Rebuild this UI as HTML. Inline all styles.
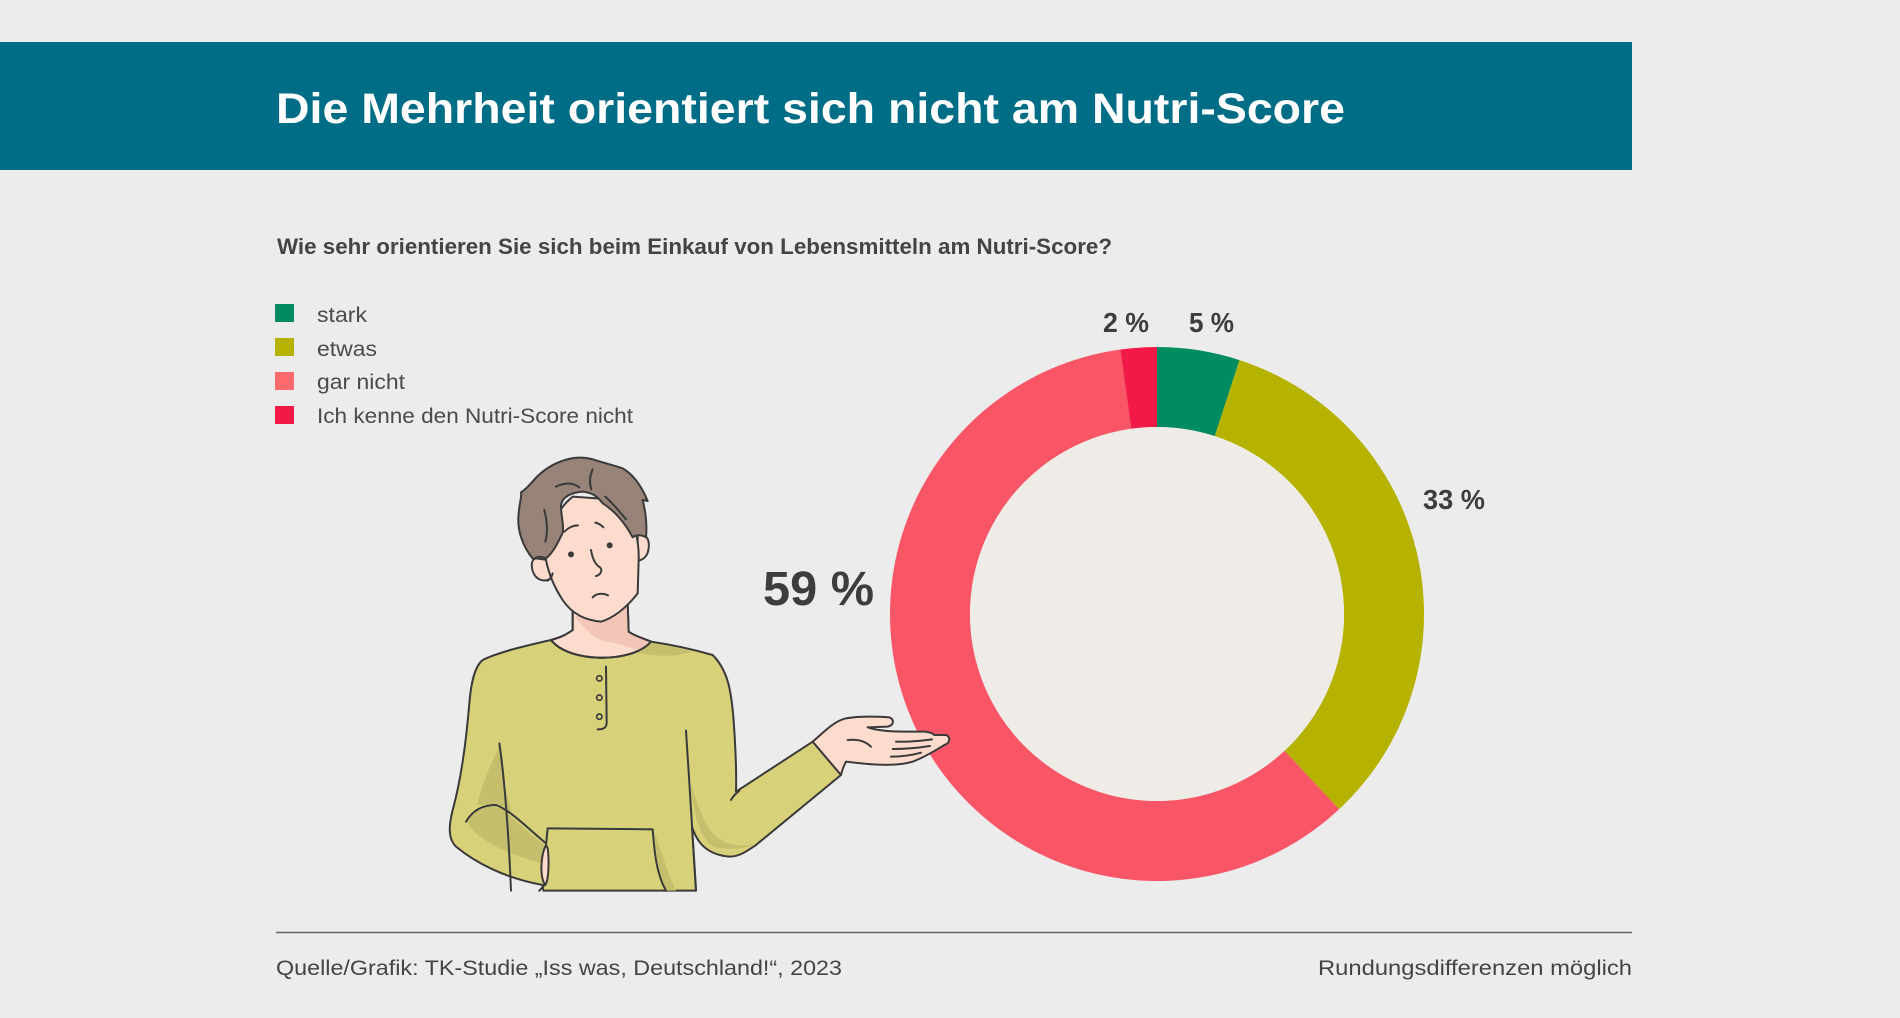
<!DOCTYPE html>
<html>
<head>
<meta charset="utf-8">
<style>
html,body{margin:0;padding:0;background:#ececec;}
svg{display:block;}
text{font-family:"Liberation Sans",sans-serif;}
</style>
</head>
<body>
<svg width="1900" height="1018" viewBox="0 0 1900 1018" xmlns="http://www.w3.org/2000/svg">
<rect x="0" y="0" width="1900" height="1018" fill="#ececec"/>
<!-- title bar -->
<rect x="0" y="42" width="1632" height="128" fill="#006d86"/>
<text x="276" y="123" font-size="43" font-weight="bold" fill="#ffffff" textLength="1069" lengthAdjust="spacingAndGlyphs">Die Mehrheit orientiert sich nicht am Nutri-Score</text>

<!-- subtitle -->
<text x="277" y="254" font-size="22" font-weight="bold" fill="#444444" textLength="835" lengthAdjust="spacingAndGlyphs">Wie sehr orientieren Sie sich beim Einkauf von Lebensmitteln am Nutri-Score?</text>

<!-- legend -->
<rect x="275" y="304" width="19" height="18" fill="#008c60"/>
<rect x="275" y="338" width="19" height="18" fill="#b5b300"/>
<rect x="275" y="372" width="19" height="18" fill="#fd6a6e"/>
<rect x="275" y="406" width="19" height="18" fill="#f31946"/>
<text x="317" y="322" font-size="21" fill="#4a4a4a" textLength="50" lengthAdjust="spacingAndGlyphs">stark</text>
<text x="317" y="356" font-size="21" fill="#4a4a4a" textLength="60" lengthAdjust="spacingAndGlyphs">etwas</text>
<text x="317" y="389" font-size="21" fill="#4a4a4a" textLength="88" lengthAdjust="spacingAndGlyphs">gar nicht</text>
<text x="317" y="423" font-size="21" fill="#4a4a4a" textLength="316" lengthAdjust="spacingAndGlyphs">Ich kenne den Nutri-Score nicht</text>

<!-- donut -->
<path d="M1157,347 A267,267 0 0 1 1239.51,360.07 L1214.79,436.15 A187,187 0 0 0 1157,427 Z" fill="#008c60"/>
<path d="M1239.51,360.07 A267,267 0 0 1 1339.09,809.27 L1284.53,750.76 A187,187 0 0 0 1214.79,436.15 Z" fill="#b5b300"/>
<path d="M1339.09,809.27 A267,267 0 1 1 1120.30,349.53 L1131.30,428.77 A187,187 0 1 0 1284.53,750.76 Z" fill="#f85566"/>
<path d="M1120.30,349.53 A267,267 0 0 1 1157,347 L1157,427 A187,187 0 0 0 1131.30,428.77 Z" fill="#f31946"/>
<circle cx="1157" cy="614" r="187" fill="#efebe6"/>

<!-- labels -->
<text x="1103" y="332" font-size="28" font-weight="bold" fill="#3d3d3b" textLength="46" lengthAdjust="spacingAndGlyphs">2 %</text>
<text x="1189" y="332" font-size="28" font-weight="bold" fill="#3d3d3b" textLength="45" lengthAdjust="spacingAndGlyphs">5 %</text>
<text x="1423" y="509" font-size="28" font-weight="bold" fill="#3d3d3b" textLength="62" lengthAdjust="spacingAndGlyphs">33 %</text>
<text x="763" y="605" font-size="48" font-weight="bold" fill="#3d3d3b" textLength="111" lengthAdjust="spacingAndGlyphs">59 %</text>

<!-- man illustration -->
<g transform="translate(446,450) scale(0.33333)" stroke="#3a3a3a" stroke-width="6" stroke-linejoin="round" stroke-linecap="round">
  <!-- shirt -->
  <path fill="#d7d179" d="M315,570 C250,585 160,605 110,630 C85,650 75,700 70,760 C60,880 45,990 20,1080 C5,1140 10,1170 30,1190 C90,1240 180,1285 290,1305 L292,1322 L750,1322 L738,1130 C755,1185 790,1215 850,1220 C880,1220 900,1205 930,1185 L1185,975 L1100,875 L870,1025 C872,960 868,880 862,800 C855,720 845,660 800,615 C740,598 680,585 615,575 C560,640 370,640 315,570 Z"/>
  <!-- shirt shadows -->
  <path fill="#c5be6c" stroke="none" d="M160,890 C130,950 105,1010 95,1065 C140,1060 170,1070 200,1100 L175,1000 Z"/>
  <path fill="#c5be6c" stroke="none" d="M60,1110 C80,1160 170,1210 290,1240 L295,1185 C250,1150 210,1110 170,1080 C130,1060 90,1075 60,1110 Z"/>
  <path fill="#c5be6c" stroke="none" d="M735,1000 C740,1080 760,1160 800,1190 C840,1200 880,1200 920,1185 C860,1190 810,1180 780,1120 C760,1080 745,1040 735,1000 Z"/>
  <path fill="#c5be6c" stroke="none" d="M540,595 C600,620 680,625 740,605 C700,595 650,585 615,578 Z"/>
  <path fill="#c5be6c" stroke="none" d="M625,1145 C630,1220 640,1280 660,1322 L690,1322 C660,1260 645,1200 625,1145 Z"/>
  <!-- neck -->
  <path fill="#fedccd" d="M380,470 L380,540 C360,555 335,565 315,570 C370,640 560,640 615,575 C590,565 560,555 548,545 L545,460 Z"/>
  <path fill="#f2c5b6" stroke="none" d="M385,500 C420,540 450,570 480,575 C520,580 555,595 585,603 L612,578 C585,565 555,552 546,540 L545,470 Z"/>
  <path fill="none" d="M380,470 L380,540 C360,555 335,565 315,570 C370,640 560,640 615,575 C590,565 560,555 548,545 L545,460"/>
  <!-- ears -->
  <path fill="#fedccd" d="M270,325 C250,330 255,370 275,385 C290,395 305,392 315,385 L305,330 Z"/>
  <path fill="#fedccd" d="M575,255 C595,245 612,265 608,295 C605,320 590,330 575,332 Z"/>
  <!-- face -->
  <path fill="#fedccd" d="M300,330 C300,250 330,180 380,140 L520,150 C560,200 580,260 578,330 L575,430 C540,475 500,505 465,515 C420,510 380,495 350,450 C330,420 310,380 300,330 Z"/>
  <!-- hair -->
  <path fill="#978377" d="M225,127 C245,115 258,95 275,78 C320,35 385,12 440,28 C470,38 500,45 530,55 C565,75 590,115 605,153 L590,150 C600,190 603,230 600,262 C585,252 568,255 560,262 C540,225 510,185 470,160 C455,140 440,128 410,125 C375,128 350,140 345,165 C345,200 355,230 350,248 C335,280 320,310 300,325 C285,318 270,320 262,328 C230,290 212,240 218,190 C220,160 228,140 225,127 Z"/>
  <path fill="none" d="M295,180 C305,220 305,250 298,275"/>
  <path fill="none" d="M330,110 C360,95 385,100 400,112"/>
  <path fill="none" d="M440,58 C430,80 430,100 436,118"/>
  <path fill="none" d="M478,140 C505,165 525,190 540,208"/>
  <!-- face features -->
  <circle cx="375" cy="313" r="9" fill="#3a3a3a" stroke="none"/>
  <circle cx="491" cy="286" r="9" fill="#3a3a3a" stroke="none"/>
  <path fill="none" d="M355,245 C368,232 382,226 396,226"/>
  <path fill="none" d="M448,218 C458,220 466,226 472,232"/>
  <path fill="none" d="M435,300 C440,330 450,345 462,352 C470,360 465,375 450,378"/>
  <path fill="none" d="M440,442 C450,430 470,428 486,436"/>
  <path fill="none" d="M320,370 C318,380 312,388 305,392"/>
  <!-- placket & buttons -->
  <path fill="none" d="M480,650 L482,820 C480,835 470,838 455,838"/>
  <circle cx="460" cy="685" r="8" fill="none" stroke-width="5"/>
  <circle cx="460" cy="743" r="8" fill="none" stroke-width="5"/>
  <circle cx="460" cy="800" r="8" fill="none" stroke-width="5"/>
  <!-- inner lines -->
  <path fill="none" d="M160,880 C175,980 188,1150 195,1322"/>
  <path fill="none" d="M720,842 C730,1000 742,1180 750,1322"/>
  <path fill="none" d="M855,1050 C860,1040 870,1030 880,1022"/>
  <path fill="none" d="M60,1115 C80,1080 110,1065 150,1065 C200,1085 250,1140 300,1180"/>
  <!-- pocket -->
  <path fill="none" d="M305,1135 L620,1138 C625,1200 630,1270 660,1322"/>
  <path fill="none" d="M305,1135 L300,1185"/>
  <path fill="#fedccd" d="M300,1185 C282,1220 282,1285 298,1305 C308,1290 310,1230 305,1195 Z"/>
  <path fill="none" d="M300,1300 L280,1322"/>
  <!-- hand -->
  <path fill="#fedccd" d="M1100,875 C1130,850 1160,815 1200,805 C1240,798 1300,800 1330,802 C1345,808 1345,825 1325,830 L1265,832 C1300,845 1350,845 1420,845 C1445,843 1460,850 1465,855 L1500,855 C1515,860 1512,880 1495,885 C1470,900 1440,920 1400,935 C1350,950 1280,945 1200,935 C1192,950 1188,962 1185,975 Z"/>
  <path fill="none" d="M1350,875 C1390,876 1430,872 1458,868"/>
  <path fill="none" d="M1340,897 C1380,897 1420,893 1452,888"/>
  <path fill="none" d="M1335,920 C1370,920 1400,915 1425,908"/>
  <path fill="none" d="M1205,870 C1240,866 1260,875 1275,890"/>
</g>

<!-- footer -->
<line x1="276" y1="932.5" x2="1632" y2="932.5" stroke="#666666" stroke-width="1.5"/>
<text x="276" y="975" font-size="21" fill="#444444" textLength="566" lengthAdjust="spacingAndGlyphs">Quelle/Grafik: TK-Studie „Iss was, Deutschland!“, 2023</text>
<text x="1632" y="975" font-size="21" fill="#444444" text-anchor="end" textLength="314" lengthAdjust="spacingAndGlyphs">Rundungsdifferenzen möglich</text>
</svg>
</body>
</html>
